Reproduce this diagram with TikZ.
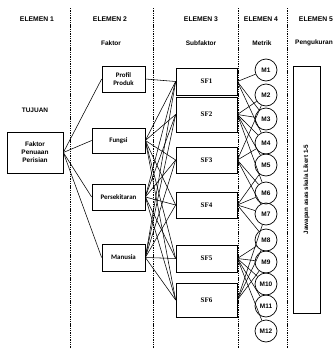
\documentclass[tikz,border=0pt]{standalone}
\usepackage{fontspec}
\setmainfont{Liberation Sans}
\newfontfamily\calfont{Carlito}
\newfontfamily\timesfont{Liberation Serif}
\begin{document}
\begin{tikzpicture}[x=1pt,y=-1pt,
  hdr/.style={font=\fontsize{6.8}{8}\selectfont\bfseries},
  sub/.style={font=\fontsize{6.5}{8}\selectfont\bfseries},
  sep/.style={dash pattern=on 1.4pt off 0.9pt, line width=0.55pt},
  fbox/.style={draw, line width=0.7pt, font=\calfont\fontsize{6.9}{8}\selectfont\bfseries, align=center, inner sep=0pt},
  sfbox/.style={draw, line width=0.7pt, font=\timesfont\fontsize{7}{8}\selectfont\bfseries, inner sep=0pt, minimum width=61pt},
  mnode/.style={draw, circle, line width=0.7pt, minimum size=22pt, inner sep=0pt, font=\fontsize{6.5}{8}\selectfont\bfseries},
  link/.style={line width=0.55pt}]
\useasboundingbox (0,0) rectangle (336,348);

% column separators
\draw[sep] (70,8) -- (70,348);
\draw[sep] (153,8) -- (153,348);
\draw[sep] (238,8) -- (238,348);
\draw[sep] (287,8) -- (287,348);

% column headings
\node[hdr] (h1) at (37,19) {ELEMEN 1};
\node[hdr] (h2) at (110,19) {ELEMEN 2};
\node[hdr] (h3) at (201,19) {ELEMEN 3};
\node[hdr] (h4) at (261,19) {ELEMEN 4};
\node[hdr] (h5) at (316,19) {ELEMEN 5};
\node[sub] (s2) at (111,43) {Faktor};
\node[sub] (s3) at (201,43) {Subfaktor};
\node[sub] (s4) at (262,43) {Metrik};
\node[sub] (s5) at (314,43) {Pengukuran};
\node[sub] (tj) at (35,110) {TUJUAN};

% goal
\node[fbox, minimum width=56pt, minimum height=41pt, font=\fontsize{6.5}{8}\selectfont\bfseries] (goal) at (35,152.5) {Faktor\\Penuaan\\Perisian};

% factors
\node[fbox, minimum width=43pt, minimum height=26pt] (f1) at (123.5,79) {Profil\\Produk};
\node[fbox, minimum width=53pt, minimum height=25pt] (f2) at (118.5,140.5) {Fungsi};
\node[fbox, minimum width=53pt, minimum height=26pt] (f3) at (118.5,197) {Persekitaran};
\node[fbox, minimum width=43pt, minimum height=27pt] (f4) at (123.5,257.5) {Manusia};

% subfactors
\node[sfbox, minimum height=27pt] (sf1) at (206.5,81.5) {SF1};
\node[sfbox, minimum height=35pt] (sf2) at (206.5,114.5) {SF2};
\node[sfbox, minimum height=26pt] (sf3) at (206.5,160) {SF3};
\node[sfbox, minimum height=26pt] (sf4) at (206.5,205) {SF4};
\node[sfbox, minimum height=27pt] (sf5) at (206.5,258.5) {SF5};
\node[sfbox, minimum height=34pt] (sf6) at (206.5,300) {SF6};

% metrics
\foreach \i/\yy in {1/70,2/95,3/119,4/143,5/165,6/193,7/214,8/240,9/262,10/284,11/306,12/331}
  \node[mnode] (m\i) at (266,\yy) {M\i};

% measurement scale
\node[draw, line width=0.7pt, minimum width=27pt, minimum height=247pt, inner sep=0pt] (scale) at (306.5,189.5) {};
\node[rotate=90, font=\fontsize{6.3}{8}\selectfont\bfseries] (scaletxt) at (scale.center) {Jawapan asas skala Likert 1-5};

% goal to factors
\foreach \f in {f1,f2,f3,f4}
  \draw[link] (goal.east) -- (\f.west);

% factors to subfactors
\draw[link] (f1.east) -- (sf1.west);
\foreach \f in {f2,f3,f4}
  \foreach \s in {sf1,sf2,sf3,sf4,sf5,sf6}
    \draw[link] (\f.east) -- (\s.west);

% subfactors to metrics
\foreach \s/\ms in {sf1/{1,3,4}, sf2/{2,3,4,5,6}, sf3/{2,4,6,7}, sf4/{5,6,7,8}, sf5/{8,9,10,11,12}, sf6/{7,8,9}}
  \foreach \m in \ms
    \draw[link] (\s.east) -- (m\m);
\end{tikzpicture}
\end{document}
